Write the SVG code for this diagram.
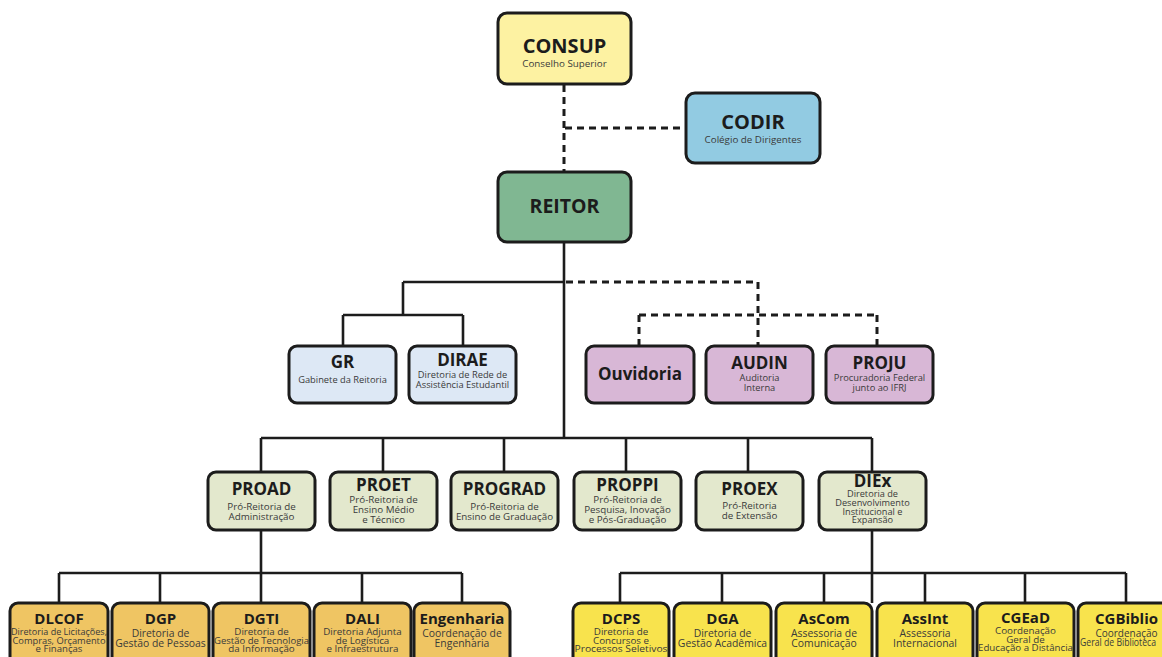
<svg xmlns="http://www.w3.org/2000/svg" width="1162" height="657" viewBox="0 0 1162 657">
<style>
.box{stroke:#1c1c1c;stroke-width:3}
.t{font-family:"Open Sans","Noto Sans","Liberation Sans",sans-serif;font-weight:700;fill:#1c1c1c;text-anchor:middle}
.s{font-family:"Open Sans","Noto Sans","Liberation Sans",sans-serif;font-weight:400;fill:#3a3a3a;text-anchor:middle}
.ln{fill:none;stroke:#1c1c1c;stroke-width:2.6}
.dl{fill:none;stroke:#1c1c1c;stroke-width:3;stroke-dasharray:7 5}
.consup{fill:#fdf2a2}
.codir{fill:#92cbe2}
.reitor{fill:#80b792}
.gab{fill:#dde8f5}
.ass{fill:#d8b7d6}
.pro{fill:#e3e8cd}
.ora{fill:#efc563}
.yel{fill:#f8e34d}
</style>
<rect width="1162" height="657" fill="#ffffff"/>
<g id="connectors">
<path class="dl" d="M564 85V171M565 128H685"/>
<path class="ln" d="M564 243V438"/>
<path class="ln" d="M403 282H564M403 282V315M343 315H463M343 315V346M463 315V346"/>
<path class="dl" d="M566 282H758V345M639 315H877M639 315V345M877 315V345"/>
<path class="ln" d="M261 438H872M261 438V472M383 438V472M504 438V472M626 438V472M748 438V472M872 438V472"/>
<path class="ln" d="M261 530V603M59 573H462M59 573V603M160 573V603M261 573V603M362 573V603M462 573V603"/>
<path class="ln" d="M872 530V603M620 573H1126M620 573V603M722 573V603M824 573V603M925 573V603M1025 573V603M1126 573V603"/>
</g>
<g id="consup"><rect class="box consup" x="498" y="13" width="133" height="71" rx="9"/><text class="t" x="564.5" y="53" font-size="20">CONSUP</text><text class="s" x="564.5" y="67" font-size="9.8">Conselho Superior</text></g>
<g id="codir"><rect class="box codir" x="686" y="93" width="134" height="70" rx="9"/><text class="t" x="753" y="129" font-size="20">CODIR</text><text class="s" x="753" y="143" font-size="9.8">Colégio de Dirigentes</text></g>
<g id="reitor"><rect class="box reitor" x="498" y="172" width="133" height="70" rx="9"/><text class="t" x="564.5" y="213" font-size="19.5">REITOR</text></g>
<g id="gr"><rect class="box gab" x="289" y="346" width="107" height="57" rx="8"/><text class="t" x="342.5" y="368" font-size="17">GR</text><text class="s" x="342.5" y="383" font-size="9.3">Gabinete da Reitoria</text></g>
<g id="dirae"><rect class="box gab" x="409" y="346" width="107" height="57" rx="8"/><text class="t" x="462.5" y="366" font-size="17">DIRAE</text><text class="s" font-size="9.3"><tspan x="462.5" y="378">Diretoria de Rede de</tspan><tspan x="462.5" dy="10">Assistência Estudantil</tspan></text></g>
<g id="ouvidoria"><rect class="box ass" x="586" y="346" width="108" height="57" rx="8"/><text class="t" x="640" y="380" font-size="17">Ouvidoria</text></g>
<g id="audin"><rect class="box ass" x="706" y="346" width="107" height="57" rx="8"/><text class="t" x="759.5" y="369" font-size="17">AUDIN</text><text class="s" font-size="9.3"><tspan x="759.5" y="381">Auditoria</tspan><tspan x="759.5" dy="10">Interna</tspan></text></g>
<g id="proju"><rect class="box ass" x="826" y="346" width="107" height="57" rx="8"/><text class="t" x="879.5" y="369" font-size="17">PROJU</text><text class="s" font-size="9.3"><tspan x="879.5" y="381">Procuradoria Federal</tspan><tspan x="879.5" dy="10">junto ao IFRJ</tspan></text></g>
<g id="proad"><rect class="box pro" x="208" y="472" width="107" height="58" rx="8"/><text class="t" x="261.5" y="495" font-size="17">PROAD</text><text class="s" font-size="9.8"><tspan x="261.5" y="510">Pró-Reitoria de</tspan><tspan x="261.5" dy="10">Administração</tspan></text></g>
<g id="proet"><rect class="box pro" x="330" y="472" width="107" height="58" rx="8"/><text class="t" x="383.5" y="491" font-size="17">PROET</text><text class="s" font-size="9.8"><tspan x="383.5" y="503">Pró-Reitoria de</tspan><tspan x="383.5" dy="10">Ensino Médio</tspan><tspan x="383.5" dy="10">e Técnico</tspan></text></g>
<g id="prograd"><rect class="box pro" x="451" y="472" width="107" height="58" rx="8"/><text class="t" x="504.5" y="495" font-size="17">PROGRAD</text><text class="s" font-size="9.8"><tspan x="504.5" y="510">Pró-Reitoria de</tspan><tspan x="504.5" dy="10">Ensino de Graduação</tspan></text></g>
<g id="proppi"><rect class="box pro" x="574" y="472" width="107" height="58" rx="8"/><text class="t" x="627.5" y="491" font-size="17">PROPPI</text><text class="s" font-size="9.8"><tspan x="627.5" y="503">Pró-Reitoria de</tspan><tspan x="627.5" dy="10">Pesquisa, Inovação</tspan><tspan x="627.5" dy="10">e Pós-Graduação</tspan></text></g>
<g id="proex"><rect class="box pro" x="696" y="472" width="107" height="58" rx="8"/><text class="t" x="749.5" y="495" font-size="17">PROEX</text><text class="s" font-size="9.8"><tspan x="749.5" y="509">Pró-Reitoria</tspan><tspan x="749.5" dy="10">de Extensão</tspan></text></g>
<g id="diex"><rect class="box pro" x="819" y="472" width="107" height="58" rx="8"/><text class="t" x="872.5" y="487" font-size="17">DIEx</text><text class="s" font-size="9.2"><tspan x="872.5" y="497">Diretoria de</tspan><tspan x="872.5" dy="8.8">Desenvolvimento</tspan><tspan x="872.5" dy="8.8">Institucional e</tspan><tspan x="872.5" dy="8.8">Expansão</tspan></text></g>
<g id="dlcof"><rect class="box ora" x="10" y="603" width="98" height="62" rx="8"/><text class="t" x="59" y="624" font-size="15">DLCOF</text><text class="s" font-size="9.6"><tspan x="59" y="635" textLength="96" lengthAdjust="spacingAndGlyphs">Diretoria de Licitações,</tspan><tspan x="59" dy="8.6" textLength="93" lengthAdjust="spacingAndGlyphs">Compras, Orçamento</tspan><tspan x="59" dy="8.6">e Finanças</tspan></text></g>
<g id="dgp"><rect class="box ora" x="112" y="603" width="97" height="62" rx="8"/><text class="t" x="160.5" y="624" font-size="15">DGP</text><text class="s" font-size="10.4"><tspan x="160.5" y="637">Diretoria de</tspan><tspan x="160.5" dy="10">Gestão de Pessoas</tspan></text></g>
<g id="dgti"><rect class="box ora" x="213" y="603" width="97" height="62" rx="8"/><text class="t" x="261.5" y="624" font-size="15">DGTI</text><text class="s" font-size="9.8"><tspan x="261.5" y="635">Diretoria de</tspan><tspan x="261.5" dy="8.6" textLength="95" lengthAdjust="spacingAndGlyphs">Gestão de Tecnologia</tspan><tspan x="261.5" dy="8.6">da Informação</tspan></text></g>
<g id="dali"><rect class="box ora" x="314" y="603" width="97" height="62" rx="8"/><text class="t" x="362.5" y="624" font-size="15">DALI</text><text class="s" font-size="9.8"><tspan x="362.5" y="635">Diretoria Adjunta</tspan><tspan x="362.5" dy="8.6">de Logística</tspan><tspan x="362.5" dy="8.6">e Infraestrutura</tspan></text></g>
<g id="engenharia"><rect class="box ora" x="414" y="603" width="96" height="62" rx="8"/><text class="t" x="462" y="624" font-size="15">Engenharia</text><text class="s" font-size="10.4"><tspan x="462" y="637">Coordenação de</tspan><tspan x="462" dy="10">Engenharia</tspan></text></g>
<g id="dcps"><rect class="box yel" x="573" y="603" width="96" height="62" rx="8"/><text class="t" x="621" y="624" font-size="15">DCPS</text><text class="s" font-size="9.8"><tspan x="621" y="635">Diretoria de</tspan><tspan x="621" dy="8.6">Concursos e</tspan><tspan x="621" dy="8.6" textLength="93" lengthAdjust="spacingAndGlyphs">Processos Seletivos</tspan></text></g>
<g id="dga"><rect class="box yel" x="674" y="603" width="97" height="62" rx="8"/><text class="t" x="722.5" y="624" font-size="15">DGA</text><text class="s" font-size="10.4"><tspan x="722.5" y="637">Diretoria de</tspan><tspan x="722.5" dy="10">Gestão Acadêmica</tspan></text></g>
<g id="ascom"><rect class="box yel" x="776" y="603" width="96" height="62" rx="8"/><text class="t" x="824" y="624" font-size="15">AsCom</text><text class="s" font-size="10.4"><tspan x="824" y="637">Assessoria de</tspan><tspan x="824" dy="10">Comunicação</tspan></text></g>
<g id="assint"><rect class="box yel" x="877" y="603" width="96" height="62" rx="8"/><text class="t" x="925" y="624" font-size="15">AssInt</text><text class="s" font-size="10.4"><tspan x="925" y="637">Assessoria</tspan><tspan x="925" dy="10">Internacional</tspan></text></g>
<g id="cgead"><rect class="box yel" x="977" y="603" width="97" height="62" rx="8"/><text class="t" x="1025.5" y="623" font-size="15">CGEaD</text><text class="s" font-size="9.8"><tspan x="1025.5" y="634">Coordenação</tspan><tspan x="1025.5" dy="8.6">Geral de</tspan><tspan x="1025.5" dy="8.6" textLength="95" lengthAdjust="spacingAndGlyphs">Educação a Distância</tspan></text></g>
<g id="cgbiblio"><rect class="box yel" x="1078" y="603" width="97" height="62" rx="8"/><text class="t" x="1126.5" y="624" font-size="15">CGBiblio</text><text class="s" font-size="10"><tspan x="1126.5" y="637">Coordenação</tspan><tspan x="1118" dy="9" textLength="76" lengthAdjust="spacingAndGlyphs">Geral de Biblioteca</tspan></text></g>
</svg>
